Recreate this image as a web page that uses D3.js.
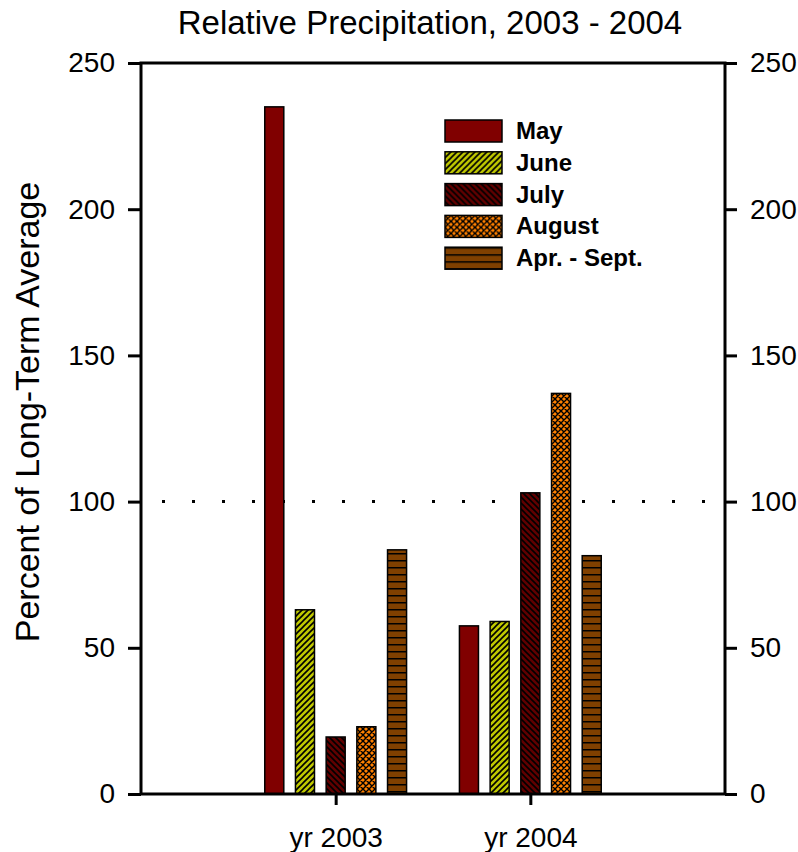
<!DOCTYPE html>
<html>
<head>
<meta charset="utf-8">
<script src="https://cdn.jsdelivr.net/npm/d3@7"></script>
<style>
  body { margin: 0; background: #fff; }
  text { font-family: "Liberation Sans", Arial, sans-serif; fill: #000; }
</style>
</head>
<body>
<div id="chart"></div>
<script>
// data
const years = ["yr 2003", "yr 2004"];
const months = ["May", "June", "July", "August", "Apr. - Sept."];
const mayVals = [235, 57.5];
const juneVals = [63, 59];
const julyVals = [19.5, 103];
const augustVals = [23, 137];
const aprSeptVals = [83.5, 81.5];
const yTicks = [0, 50, 100, 150, 200, 250];
const refLine = 100;

const seriesVals = [mayVals, juneVals, julyVals, augustVals, aprSeptVals];

let W = 798, H = 852;
let margin = {top: 63, right: 73, bottom: 58, left: 141},
    width = W - margin.left - margin.right,
    height = H - margin.top - margin.bottom;

let svg = d3.select("#chart").append("svg")
    .attr("width", W)
    .attr("height", H);

// patterns
let defs = svg.append("defs");
function pattern(id, w, h, bg, d, sw) {
    let p = defs.append("pattern")
        .attr("id", id)
        .attr("patternUnits", "userSpaceOnUse")
        .attr("width", w).attr("height", h);
    p.append("rect").attr("width", w).attr("height", h).attr("fill", bg);
    if (d) p.append("path").attr("d", d).attr("stroke", "#000").attr("stroke-width", sw).attr("fill", "none");
}
pattern("pJune", 6, 6, "#bfc800", "M0,6L6,0M-1,1L1,-1M5,7L7,5", 1.6);
pattern("pJuly", 6, 6, "#600000", "M0,0L6,6M-1,5L1,7M5,-1L7,1", 1.6);
pattern("pAug", 6, 6, "#ff8000", "M0,6L6,0M-1,1L1,-1M5,7L7,5M0,0L6,6M-1,5L1,7M5,-1L7,1", 1.4);
pattern("pApr", 8, 7, "#804000", "M0,0.5L8,0.5", 2);

const fills = ["#800000", "url(#pJune)", "url(#pJuly)", "url(#pAug)", "url(#pApr)"];

let g = svg.append("g")
    .attr("transform", "translate(" + margin.left + "," + margin.top + ")");

// scales
let x0 = d3.scalePoint().domain(years).range([0, width]).padding(1);
let x1 = d3.scaleBand().domain(months).range([-70.9, 70.9]).paddingInner(0.38).paddingOuter(0);
let y = d3.scaleLinear().domain([0, 250]).range([height, 0]);

// reference line at 100
g.append("line")
    .attr("x1", 0).attr("x2", width)
    .attr("y1", y(refLine)).attr("y2", y(refLine))
    .attr("stroke", "#000")
    .attr("stroke-width", 3)
    .attr("stroke-dasharray", "3,27")
    .attr("stroke-dashoffset", 9);

// bars
let data = [];
years.forEach((yr, i) => {
    months.forEach((m, j) => {
        data.push({year: yr, month: m, value: seriesVals[j][i], k: j});
    });
});

g.selectAll("rect.bar")
    .data(data)
    .enter().append("rect")
    .attr("class", "bar")
    .attr("x", d => x0(d.year) + x1(d.month))
    .attr("y", d => y(d.value))
    .attr("width", x1.bandwidth())
    .attr("height", d => height - y(d.value))
    .attr("fill", d => fills[d.k])
    .attr("stroke", "#000")
    .attr("stroke-width", 1.5);

// axes
function styleAxis(sel) {
    sel.select(".domain").remove();
    sel.selectAll(".tick line").attr("stroke", "#000").attr("stroke-width", 3);
    sel.selectAll(".tick text").style("font-size", "28px").attr("font-family", "Liberation Sans, Arial, sans-serif");
}

g.append("g")
    .call(d3.axisLeft(y).tickValues(yTicks).tickSize(13).tickPadding(13).tickFormat(d3.format("d")))
    .call(styleAxis);

g.append("g")
    .attr("transform", "translate(" + width + ",0)")
    .call(d3.axisRight(y).tickValues(yTicks).tickSize(12).tickPadding(13).tickFormat(d3.format("d")))
    .call(styleAxis);

let xAx = g.append("g")
    .attr("transform", "translate(0," + height + ")")
    .call(d3.axisBottom(x0).tickSize(11).tickPadding(22))
    .call(styleAxis);

// frame
g.append("rect")
    .attr("width", width).attr("height", height)
    .attr("fill", "none")
    .attr("stroke", "#000")
    .attr("stroke-width", 3);

// title
svg.append("text")
    .attr("x", 430).attr("y", 34)
    .attr("text-anchor", "middle")
    .style("font-size", "33px")
    .text("Relative Precipitation, 2003 - 2004");

// y label
svg.append("text")
    .attr("transform", "translate(39,412) rotate(-90)")
    .attr("text-anchor", "middle")
    .style("font-size", "34px")
    .text("Percent of Long-Term Average");

// legend
let legend = svg.append("g").attr("transform", "translate(445,120)");
let li = legend.selectAll("g")
    .data(months)
    .enter().append("g")
    .attr("transform", (d, i) => "translate(0," + (i * 31.8) + ")");
li.append("rect")
    .attr("width", 57).attr("height", 22)
    .attr("fill", (d, i) => fills[i])
    .attr("stroke", "#000")
    .attr("stroke-width", 1.5);
li.append("text")
    .attr("x", 71).attr("y", 19)
    .style("font-size", "24px")
    .style("font-weight", "bold")
    .text(d => d);
</script>
</body>
</html>
